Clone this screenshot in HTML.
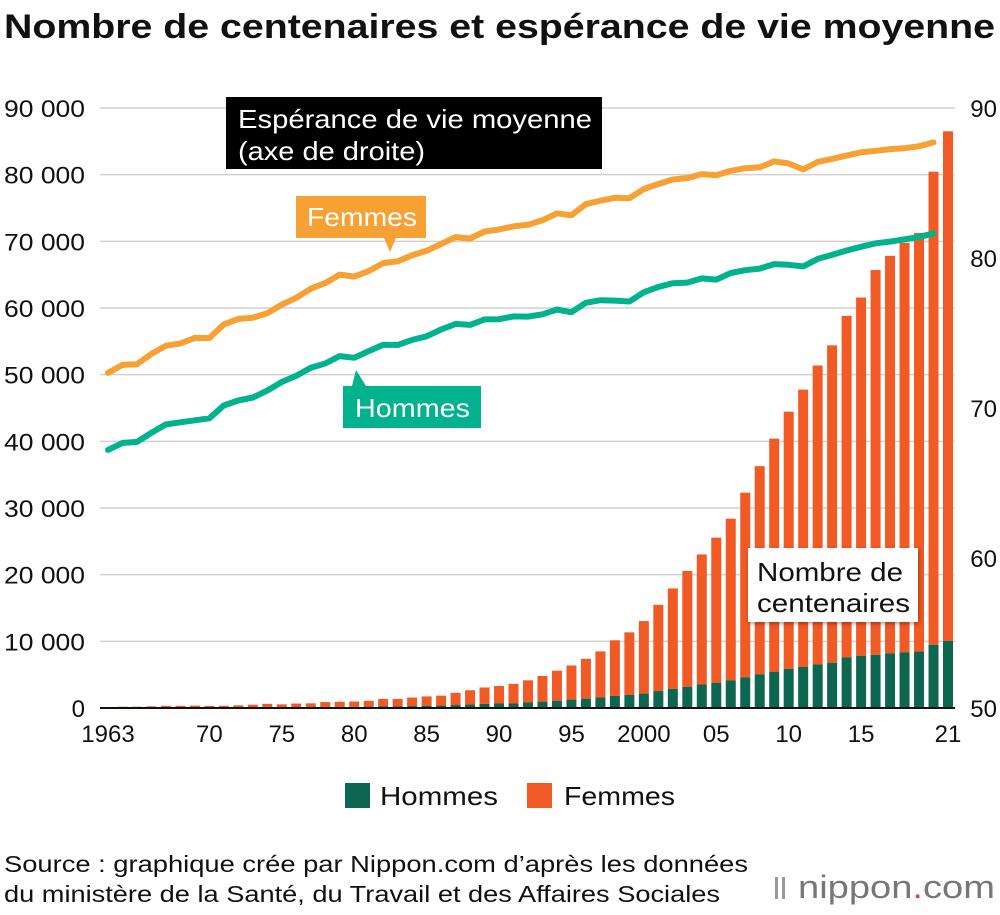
<!DOCTYPE html>
<html><head><meta charset="utf-8"><style>
body{margin:0;background:#fff;font-family:"Liberation Sans",sans-serif;}
svg text{font-family:"Liberation Sans",sans-serif;}
</style></head><body>
<svg id="chart" width="1000" height="910">
<text x="4" y="38" font-size="34" font-weight="bold" fill="#111" textLength="991" lengthAdjust="spacingAndGlyphs">Nombre de centenaires et espérance de vie moyenne</text>
<g id="grid"></g><g id="bars"></g><g id="lines"></g><g id="axes"></g>
<g>
<rect x="226" y="97" width="376" height="72" fill="#000"/>
<text x="238" y="128" font-size="26" fill="#fff" textLength="354" lengthAdjust="spacingAndGlyphs">Espérance de vie moyenne</text>
<text x="238" y="160" font-size="26" fill="#fff" textLength="187" lengthAdjust="spacingAndGlyphs">(axe de droite)</text></g>
<g>
<rect x="296" y="196" width="130" height="42" fill="#f7a034"/>
<polygon points="384,238 396,238 390,252" fill="#f7a034"/>
<text x="307" y="226" font-size="26" fill="#fff" textLength="110" lengthAdjust="spacingAndGlyphs">Femmes</text></g>
<g>
<rect x="343" y="386" width="138" height="42" fill="#00b38c"/>
<polygon points="352,386 366,386 356,370" fill="#00b38c"/>
<text x="355" y="417" font-size="26" fill="#fff" textLength="115" lengthAdjust="spacingAndGlyphs">Hommes</text></g>
<g>
<rect x="748" y="548" width="170" height="74" fill="#fff" style="filter:drop-shadow(1px 2px 2px rgba(0,0,0,0.35))"/>
<text x="757" y="581" font-size="26" fill="#111" textLength="146" lengthAdjust="spacingAndGlyphs">Nombre de</text>
<text x="757" y="612" font-size="26" fill="#111" textLength="153" lengthAdjust="spacingAndGlyphs">centenaires</text></g>
<g>
<rect x="345" y="783" width="25" height="25" fill="#0d6650"/>
<text x="380" y="805" font-size="26" fill="#111" textLength="118" lengthAdjust="spacingAndGlyphs">Hommes</text>
<rect x="527" y="783" width="25" height="25" fill="#f15a24"/>
<text x="564" y="805" font-size="26" fill="#111" textLength="111" lengthAdjust="spacingAndGlyphs">Femmes</text></g>
<text x="4" y="872" font-size="23" fill="#111" textLength="744" lengthAdjust="spacingAndGlyphs">Source : graphique crée par Nippon.com d’après les données</text>
<text x="4" y="902" font-size="23" fill="#111" textLength="716" lengthAdjust="spacingAndGlyphs">du ministère de la Santé, du Travail et des Affaires Sociales</text>
<g>
<rect x="775" y="877" width="3" height="22" fill="#999"/><rect x="782" y="877" width="3" height="22" fill="#999"/>
<text x="798" y="898" font-size="32" fill="#777" textLength="197" lengthAdjust="spacingAndGlyphs">nippon<tspan fill="#e8423a">.</tspan>com</text></g>
</svg>
<script>
const years=[];for(let y=1963;y<=2021;y++)years.push(y);
const totalCent=[153,191,198,252,327,327,360,310,339,405,495,627,548,666,700,887,937,968,1072,1354,1354,1567,1740,1851,2271,2668,3078,3298,3625,4152,4802,5593,6378,7373,8491,10158,11346,13036,15475,17934,20561,23038,25554,28395,32295,36276,40399,44449,47756,51376,54397,58820,61568,65692,67824,69785,71274,80450,86510];
const menCent=[20,31,32,46,55,56,63,53,59,70,85,118,102,120,124,159,163,174,198,242,243,286,326,362,441,517,630,680,680,822,953,1093,1255,1400,1570,1812,1973,2158,2541,2875,3159,3523,3779,4150,4613,5063,5447,5869,6162,6534,6791,7586,7840,7974,8197,8331,8464,9475,10060];
const femaleLE=[72.34,72.87,72.92,73.61,74.15,74.30,74.67,74.66,75.58,75.94,76.02,76.31,76.89,77.35,77.95,78.33,78.89,78.76,79.13,79.66,79.78,80.18,80.48,80.93,81.39,81.30,81.77,81.90,82.11,82.22,82.51,82.98,82.85,83.59,83.82,84.01,83.99,84.60,84.93,85.23,85.33,85.59,85.52,85.81,85.99,86.05,86.44,86.30,85.90,86.41,86.61,86.83,87.05,87.14,87.26,87.32,87.45,87.71];
const maleLE=[67.21,67.67,67.74,68.35,68.91,69.05,69.18,69.31,70.17,70.50,70.70,71.16,71.73,72.15,72.69,72.97,73.46,73.35,73.79,74.22,74.20,74.54,74.78,75.23,75.61,75.54,75.91,75.92,76.11,76.09,76.25,76.57,76.38,77.01,77.19,77.16,77.10,77.72,78.07,78.32,78.36,78.64,78.56,79.00,79.19,79.29,79.59,79.55,79.44,79.94,80.21,80.50,80.75,80.98,81.09,81.25,81.41,81.64];
const leftTicks=[0,10000,20000,30000,40000,50000,60000,70000,80000,90000];
const rightTicks=[50,60,70,80,90];
const xTickYears=[1963,1970,1975,1980,1985,1990,1995,2000,2005,2010,2015,2021];
const xTickLabels=["1963","70","75","80","85","90","95","2000","05","10","15","21"];
const NS="http://www.w3.org/2000/svg";
const x=y=>108+(y-1963)*(840/58);
const yL=v=>708-v*600/90000;
const yR=v=>708-(v-50)*15;
function mk(tag,attrs,parent){const e=document.createElementNS(NS,tag);for(const k in attrs)e.setAttribute(k,attrs[k]);document.getElementById(parent).appendChild(e);return e;}
leftTicks.forEach(t=>{
 if(t>0){const g=mk('line',{x1:100,x2:955,y1:yL(t),y2:yL(t),stroke:'#d0d0d0','stroke-width':1.5},'grid');
 
 }
 const l=mk('text',{x:85,y:yL(t)+9,'font-size':24,fill:'#111','text-anchor':'end'},'axes');l.textContent=t===0?'0':(t/1000)+' 000';
 if(t>=10000){l.setAttribute('textLength',81);l.setAttribute('lengthAdjust','spacingAndGlyphs');}
 
 
});
rightTicks.forEach(t=>{const l=mk('text',{x:997,y:yR(t)+9,'font-size':24,fill:'#111','text-anchor':'end'},'axes');l.textContent=t;
 
 });
xTickYears.forEach((yr,i)=>{const l=mk('text',{x:x(yr),y:742,'font-size':24,fill:'#111','text-anchor':'middle'},'axes');l.textContent=xTickLabels[i];
 
 });
years.forEach((yr,i)=>{
 const f=mk('rect',{x:x(yr)-5,y:yL(totalCent[i]),width:10,height:yL(menCent[i])-yL(totalCent[i]),fill:'#f15a24'},'bars');
 
 
 const m=mk('rect',{x:x(yr)-5,y:yL(menCent[i]),width:10,height:708-yL(menCent[i]),fill:'#0d6650'},'bars');
 
 
});
const ax=mk('line',{x1:100,x2:955,y1:708,y2:708,stroke:'#111','stroke-width':2},'axes');


function line(data,color,name){const p=data.map((v,i)=>x(years[i]).toFixed(1)+','+yR(v).toFixed(1)).join(' ');
 const e=mk('polyline',{points:p,fill:'none',stroke:color,'stroke-width':6,'stroke-linejoin':'round','stroke-linecap':'round'},'lines');
 
 }
line(femaleLE,'#f7a034','line-femmes-life-expectancy');
line(maleLE,'#00b38c','line-hommes-life-expectancy');
</script>
</body></html>
